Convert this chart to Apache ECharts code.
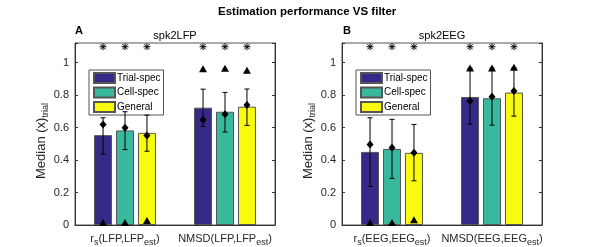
<!DOCTYPE html>
<html><head><meta charset="utf-8">
<script src="https://cdn.jsdelivr.net/npm/echarts@6/dist/echarts.min.js"></script>
<style>html,body{margin:0;padding:0;background:#fff}#c{width:591px;height:247px}</style>
</head><body><div id="c"></div>
<script>
// ---- data ----
const seriesNames = ['Trial-spec', 'Cell-spec', 'General'];
const seriesColors = ['#352a87', '#38b99e', '#f9fb0e'];
const categoriesA = ['r{sub|s}(LFP,LFP{sub|est})', 'NMSD(LFP,LFP{sub|est})'];
const categoriesB = ['r{sub|s}(EEG,EEG{sub|est})', 'NMSD(EEG,EEG{sub|est})'];
const yTicks = [0, 0.2, 0.4, 0.6, 0.8, 1];

// Panel A (spk2LFP): [r_s, NMSD] per filter
const barsA_trial = [0.553, 0.722];
const barsA_cell = [0.582, 0.697];
const barsA_general = [0.567, 0.728];
const errLowA_trial = [0.437, 0.606];
const errLowA_cell = [0.464, 0.572];
const errLowA_general = [0.454, 0.613];
const errHighA_trial = [0.660, 0.836];
const errHighA_cell = [0.697, 0.816];
const errHighA_general = [0.676, 0.837];
const diamondA_trial = [0.619, 0.647];
const diamondA_cell = [0.598, 0.682];
const diamondA_general = [0.551, 0.739];
const triangleA_trial = [0.012, 0.959];
const triangleA_cell = [0.012, 0.961];
const triangleA_general = [0.025, 0.950];
const starA = [1.097, 1.097];

// Panel B (spk2EEG)
const barsB_trial = [0.450, 0.788];
const barsB_cell = [0.468, 0.780];
const barsB_general = [0.444, 0.815];
const errLowB_trial = [0.237, 0.620];
const errLowB_cell = [0.287, 0.614];
const errLowB_general = [0.272, 0.670];
const errHighB_trial = [0.660, 0.965];
const errHighB_cell = [0.650, 0.965];
const errHighB_general = [0.619, 0.968];
const diamondB_trial = [0.495, 0.763];
const diamondB_cell = [0.475, 0.790];
const diamondB_general = [0.444, 0.825];
const triangleB_trial = [0.012, 0.963];
const triangleB_cell = [0.012, 0.963];
const triangleB_general = [0.030, 0.968];
const starB = [1.097, 1.097];

// ---- styling ----
const FONT = 'Liberation Sans, Arial, Helvetica, sans-serif';
const BAR_W = 18, BAR_GAP = 0.22;
const STEP = BAR_W * (1 + BAR_GAP);
const AXIS_COLOR = '#333';

const panels = [
  {cats: categoriesA, bars: [barsA_trial, barsA_cell, barsA_general],
   lo: [errLowA_trial, errLowA_cell, errLowA_general], hi: [errHighA_trial, errHighA_cell, errHighA_general],
   dia: [diamondA_trial, diamondA_cell, diamondA_general], tri: [triangleA_trial, triangleA_cell, triangleA_general],
   star: starA, left: 75},
  {cats: categoriesB, bars: [barsB_trial, barsB_cell, barsB_general],
   lo: [errLowB_trial, errLowB_cell, errLowB_general], hi: [errHighB_trial, errHighB_cell, errHighB_general],
   dia: [diamondB_trial, diamondB_cell, diamondB_general], tri: [triangleB_trial, triangleB_cell, triangleB_general],
   star: starB, left: 342}
];

function xOf(api, cat, k, v) {
  const p = api.coord([cat, v]);
  return [p[0] + (k - 1) * STEP, p[1]];
}
function errRender(params, api) {
  const cat = api.value(0), k = api.value(1);
  const a = xOf(api, cat, k, api.value(2)), b = xOf(api, cat, k, api.value(3));
  const st = {stroke: '#000', lineWidth: 1};
  return {type: 'group', children: [
    {type: 'line', shape: {x1: a[0], y1: a[1], x2: b[0], y2: b[1]}, style: st},
    {type: 'line', shape: {x1: a[0] - 2.5, y1: a[1], x2: a[0] + 2.5, y2: a[1]}, style: st},
    {type: 'line', shape: {x1: b[0] - 2.5, y1: b[1], x2: b[0] + 2.5, y2: b[1]}, style: st}
  ]};
}
function diaRender(params, api) {
  const p = xOf(api, api.value(0), api.value(1), api.value(2));
  return {type: 'polygon', shape: {points: [[p[0], p[1] - 4], [p[0] + 3.5, p[1]], [p[0], p[1] + 4], [p[0] - 3.5, p[1]]]},
    style: {fill: '#000'}};
}
function triRender(params, api) {
  const p = xOf(api, api.value(0), api.value(1), api.value(2));
  return {type: 'polygon', shape: {points: [[p[0], p[1] - 4], [p[0] + 4, p[1] + 3], [p[0] - 4, p[1] + 3]]},
    style: {fill: '#000'}};
}
function starRender(params, api) {
  const p = xOf(api, api.value(0), api.value(1), api.value(2));
  const st = {stroke: '#000', lineWidth: 1};
  const r = 3.5, d = 2.6;
  return {type: 'group', children: [
    {type: 'line', shape: {x1: p[0], y1: p[1] - r, x2: p[0], y2: p[1] + r}, style: st},
    {type: 'line', shape: {x1: p[0] - r, y1: p[1], x2: p[0] + r, y2: p[1]}, style: st},
    {type: 'line', shape: {x1: p[0] - d, y1: p[1] - d, x2: p[0] + d, y2: p[1] + d}, style: st},
    {type: 'line', shape: {x1: p[0] - d, y1: p[1] + d, x2: p[0] + d, y2: p[1] - d}, style: st}
  ]};
}

const grid = [], xAxis = [], yAxis = [], series = [], legend = [];
const yLabelFmt = v => {
  if (Math.abs(v * 5 - Math.round(v * 5)) > 1e-6) return '';
  return (v === 0 || Math.abs(v - 1) < 1e-9) ? String(Math.round(v)) : v.toFixed(1);
};
panels.forEach((P, pi) => {
  grid.push({left: P.left, width: 200, top: 43, height: 182, show: true, borderColor: '#555', borderWidth: 1});
  xAxis.push({type: 'category', gridIndex: pi, data: P.cats,
    axisLine: {lineStyle: {color: AXIS_COLOR}}, axisTick: {show: false},
    axisLabel: {interval: 0, hideOverlap: false, color: '#262626', fontFamily: FONT, fontSize: 11, margin: 6,
      rich: {sub: {fontSize: 9, fontFamily: FONT, color: '#262626', padding: [7, 0, 0, 0]}}}});
  const yBase = {type: 'value', gridIndex: pi, min: 0, max: 1.12, interval: 0.2,
    splitLine: {show: false}, axisLine: {show: true, lineStyle: {color: AXIS_COLOR}},
    axisTick: {show: true, inside: true, length: 3, lineStyle: {color: AXIS_COLOR}}};
  yAxis.push(Object.assign({}, yBase, {position: 'left',
    name: 'Median (x){sub|trial}', nameLocation: 'middle', nameGap: 24, nameRotate: 90,
    nameTextStyle: {color: '#262626', fontFamily: FONT, fontSize: 13, padding: [0, 0, 0, -14],
      rich: {sub: {fontSize: 9, fontFamily: FONT, color: '#262626', padding: [8, 0, 0, 0]}}},
    axisLabel: {color: '#262626', fontFamily: FONT, fontSize: 11, margin: 6, formatter: yLabelFmt}}));
  yAxis.push(Object.assign({}, yBase, {position: 'right', axisLabel: {show: false}}));
  const yi = pi * 2;
  for (let k = 0; k < 3; k++) {
    series.push({type: 'bar', name: seriesNames[k], xAxisIndex: pi, yAxisIndex: yi,
      data: P.bars[k], barWidth: BAR_W, barGap: (BAR_GAP * 100) + '%',
      itemStyle: {color: seriesColors[k], borderColor: '#555', borderWidth: 1}, z: 2});
  }
  const errData = [], diaData = [], triData = [], starData = [];
  for (let c = 0; c < 2; c++) {
    for (let k = 0; k < 3; k++) {
      errData.push([c, k, P.lo[k][c], P.hi[k][c]]);
      diaData.push([c, k, P.dia[k][c]]);
      triData.push([c, k, P.tri[k][c]]);
      starData.push([c, k, P.star[c]]);
    }
  }
  const common = {type: 'custom', xAxisIndex: pi, yAxisIndex: yi, clip: false, silent: true};
  series.push(Object.assign({}, common, {renderItem: errRender, data: errData, z: 5, encode: {x: 0, y: 2}}));
  series.push(Object.assign({}, common, {renderItem: diaRender, data: diaData, z: 6, encode: {x: 0, y: 2}}));
  series.push(Object.assign({}, common, {renderItem: triRender, data: triData, z: 6, encode: {x: 0, y: 2}}));
  series.push(Object.assign({}, common, {renderItem: starRender, data: starData, z: 6, encode: {x: 0, y: 2}}));
  legend.push({data: seriesNames, orient: 'vertical', left: P.left + 14, top: 70,
    itemWidth: 21, itemHeight: 10, itemGap: 2.5, padding: [2, 3, 2, 4],
    backgroundColor: '#fff', borderColor: '#555', borderWidth: 1, selectedMode: false,
    icon: 'rect', textStyle: {color: '#000', fontFamily: FONT, fontSize: 10, padding: [0, 0, 0, -3]}});
});

const tStyle = (size, weight) => ({fontFamily: FONT, fontSize: size, fontWeight: weight, color: '#000'});
const chart = echarts.init(document.getElementById('c'), null, {renderer: 'canvas'});
chart.setOption({
  animation: false,
  title: [
    {text: 'Estimation performance VS filter', left: 218, top: 6, padding: 0, textStyle: tStyle(11.5, 'bold')},
    {text: 'A', left: 75, top: 25, padding: 0, textStyle: tStyle(11, 'bold')},
    {text: 'B', left: 343, top: 25, padding: 0, textStyle: tStyle(11, 'bold')},
    {text: 'spk2LFP', left: 175, top: 30, padding: 0, textAlign: 'center', textStyle: tStyle(11, 'normal')},
    {text: 'spk2EEG', left: 442, top: 30, padding: 0, textAlign: 'center', textStyle: tStyle(11, 'normal')}
  ],
  grid, xAxis, yAxis, series, legend
});
</script></body></html>
